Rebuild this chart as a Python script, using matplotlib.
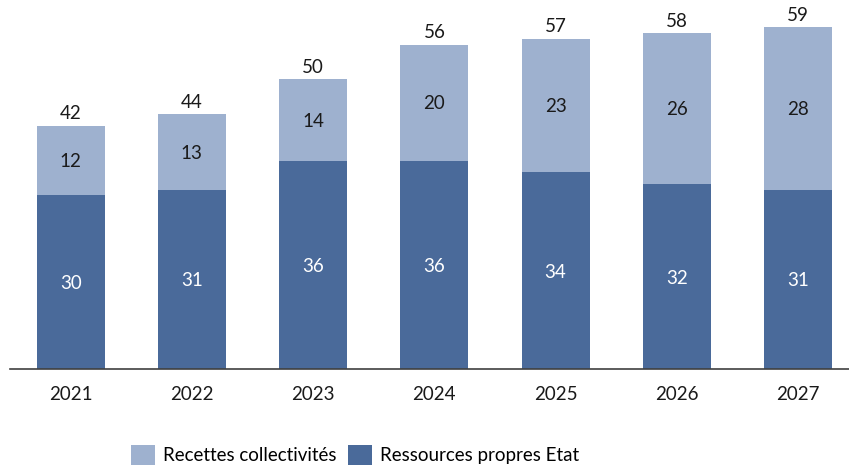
import matplotlib.pyplot as plt
import numpy as np

# données
annees = ['2021', '2022', '2023', '2024', '2025', '2026', '2027']
ressources_etat = [30, 31, 36, 36, 34, 32, 31]
recettes_coll = [12, 13, 14, 20, 23, 26, 28]
totaux = [42, 44, 50, 56, 57, 58, 59]

c_fonce = '#4a6a9a'
c_clair = '#9eb1cf'

plt.rcParams['font.family'] = ['Lato', 'DejaVu Sans']
fs = 13.5

fig = plt.figure(figsize=(8.49, 4.72), dpi=100)
ax = fig.add_axes([10 / 849, 103 / 472, 1 - 10 / 849, 359 / 472])

x = np.arange(len(annees))
b1 = ax.bar(x, ressources_etat, width=0.56, color=c_fonce, label='Ressources propres Etat')
b2 = ax.bar(x, recettes_coll, width=0.56, bottom=ressources_etat, color=c_clair,
            label='Recettes collectivités')

for i in range(len(annees)):
    ax.text(x[i], ressources_etat[i] / 2 - 0.3, str(ressources_etat[i]), ha='center', va='center',
            color='white', fontsize=fs)
    ax.text(x[i], ressources_etat[i] + recettes_coll[i] / 2 - 0.2, str(recettes_coll[i]),
            ha='center', va='center', color='#1a1a1a', fontsize=fs)
    ax.text(x[i], totaux[i] + 0.6, str(totaux[i]), ha='center', va='bottom',
            color='#1a1a1a', fontsize=fs)

ax.set_xlim(-0.5, 6.42)
ax.set_ylim(0, 62)
ax.set_xticks(x)
ax.set_xticklabels(annees, fontsize=fs, color='#1a1a1a')
ax.tick_params(axis='x', length=0, pad=12)
ax.set_yticks([])
for s in ['top', 'right', 'left']:
    ax.spines[s].set_visible(False)
ax.spines['bottom'].set_color('#404040')
ax.spines['bottom'].set_linewidth(1.2)

fig.legend(handles=[b2, b1], loc='center', bbox_to_anchor=(0.418, 0.036), ncol=2,
           frameon=False, fontsize=fs, handlelength=1.3, handleheight=1.3,
           columnspacing=0.6, handletextpad=0.4)

fig.savefig('out.png', dpi=100)
